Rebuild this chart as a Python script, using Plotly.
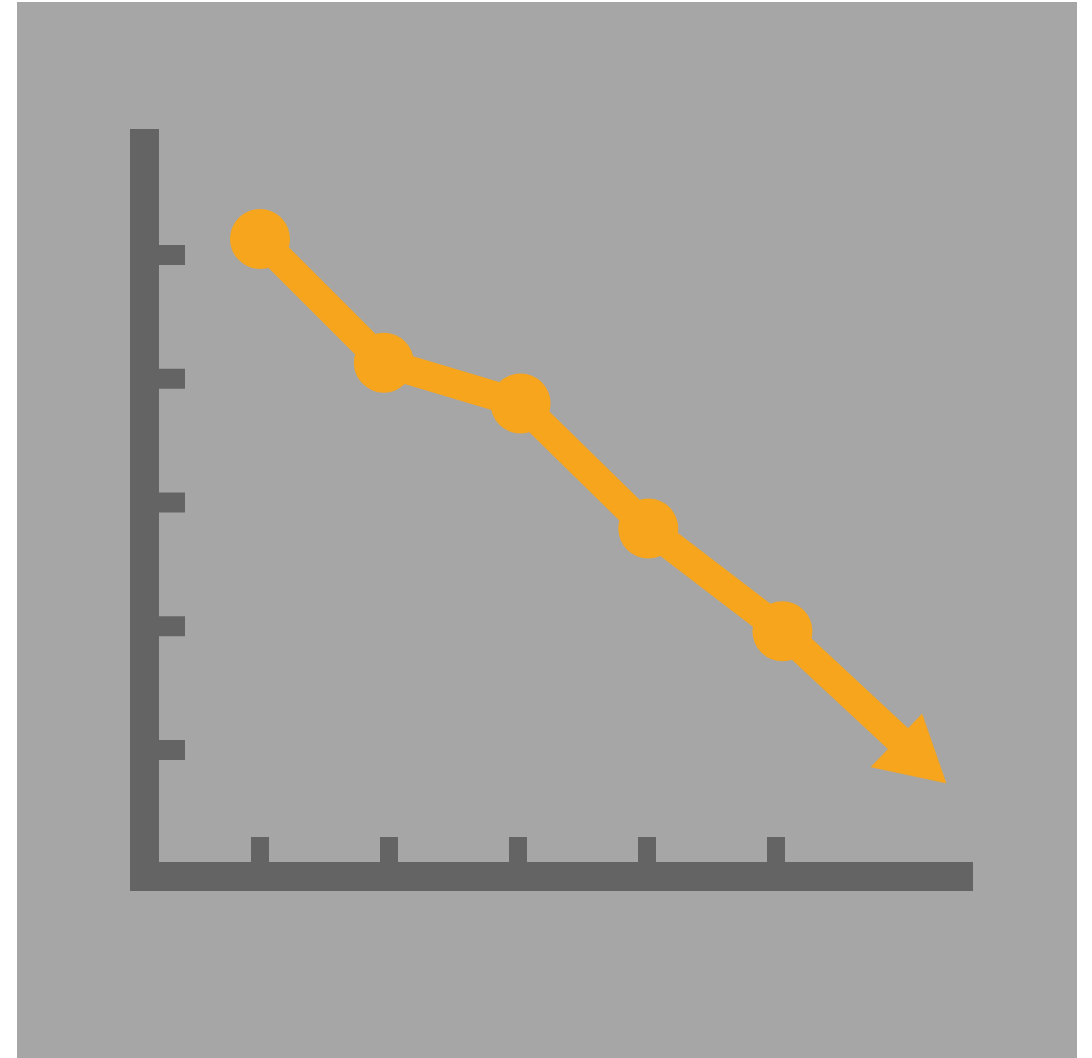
import plotly.graph_objects as go

# ---- data ----
x_ticks = [1, 2, 3, 4, 5]
y_ticks = [1, 2, 3, 4, 5]
x_vals = [1.0, 1.96, 3.02, 4.01, 5.05]
y_vals = [5.13, 4.13, 3.80, 2.79, 1.96]
arrow_tip = [6.318, 0.733]
arrow_base_left = [6.132, 1.291]
arrow_base_right = [5.736, 0.863]
arrow_line_end = [6.0, 1.04]

# ---- layout geometry ----
W, H = 1092, 1058
ML, MR, MT, MB = 17, 15, 2, 0
X_RANGE = [-0.8837, 7.3333]
Y_RANGE = [-1.4889, 7.0444]
px_x = (X_RANGE[1] - X_RANGE[0]) / (W - ML - MR)   # data units per pixel (x)
px_y = (Y_RANGE[1] - Y_RANGE[0]) / (H - MT - MB)   # data units per pixel (y)

BG = "#a6a6a6"
AXIS = "#646464"
ORANGE = "#f6a51d"

# axis bar placement (data units)
yaxis_x0, yaxis_x1 = -0.00775, 0.21705
xaxis_y0, xaxis_y1 = -0.1394, 0.0949
yaxis_top = 6.0182
xaxis_right = 6.5271

shapes = []
# vertical axis bar
shapes.append(dict(type="rect", xref="x", yref="y", x0=yaxis_x0, x1=yaxis_x1,
                   y0=xaxis_y0, y1=yaxis_top, fillcolor=AXIS, line_width=0, layer="below"))
# horizontal axis bar
shapes.append(dict(type="rect", xref="x", yref="y", x0=yaxis_x0, x1=xaxis_right,
                   y0=xaxis_y0, y1=xaxis_y1, fillcolor=AXIS, line_width=0, layer="below"))
# x ticks
for xt in x_ticks:
    shapes.append(dict(type="rect", xref="x", yref="y",
                       x0=xt - 9 * px_x, x1=xt + 9 * px_x,
                       y0=xaxis_y1 - 0.001, y1=xaxis_y1 + 25 * px_y,
                       fillcolor=AXIS, line_width=0, layer="below"))
# y ticks
for yt in y_ticks:
    shapes.append(dict(type="rect", xref="x", yref="y",
                       x0=yaxis_x1 - 0.001, x1=yaxis_x1 + 26 * px_x,
                       y0=yt - 10 * px_y, y1=yt + 10 * px_y,
                       fillcolor=AXIS, line_width=0, layer="below"))

fig = go.Figure()
# line segment into the arrow head
fig.add_trace(go.Scatter(x=[x_vals[-1], arrow_line_end[0]], y=[y_vals[-1], arrow_line_end[1]],
                         mode="lines", line=dict(color=ORANGE, width=29),
                         hoverinfo="skip", showlegend=False))
# arrow head
fig.add_trace(go.Scatter(x=[arrow_base_left[0], arrow_tip[0], arrow_base_right[0], arrow_base_left[0]],
                         y=[arrow_base_left[1], arrow_tip[1], arrow_base_right[1], arrow_base_left[1]],
                         mode="lines", fill="toself", fillcolor=ORANGE,
                         line=dict(color=ORANGE, width=0.5),
                         hoverinfo="skip", showlegend=False))
# main series
fig.add_trace(go.Scatter(x=x_vals, y=y_vals, mode="lines+markers",
                         line=dict(color=ORANGE, width=29),
                         marker=dict(color=ORANGE, size=60, line=dict(width=0)),
                         showlegend=False))

fig.update_layout(
    width=W, height=H, autosize=False,
    margin=dict(l=ML, r=MR, t=MT, b=MB, pad=0),
    paper_bgcolor="white", plot_bgcolor=BG,
    shapes=shapes, showlegend=False,
    xaxis=dict(range=X_RANGE, visible=False, fixedrange=True),
    yaxis=dict(range=Y_RANGE, visible=False, fixedrange=True),
)

fig.write_html("out.html", config={"displayModeBar": False},
               post_script="document.body.style.margin='0';document.body.style.overflow='hidden';")
